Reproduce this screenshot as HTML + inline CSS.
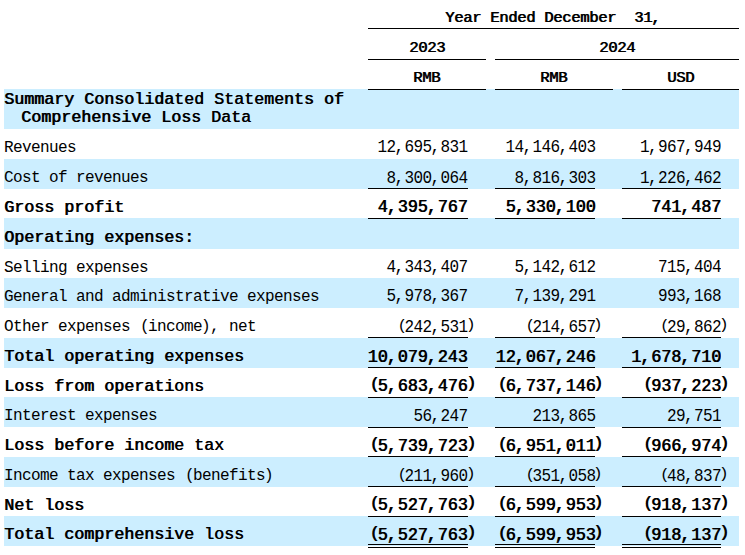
<!DOCTYPE html>
<html><head><meta charset="utf-8"><style>
html,body{margin:0;padding:0;background:#fff;}
body{width:745px;height:555px;overflow:hidden;position:relative;font-family:"Liberation Mono",monospace;color:#000;}
div{position:absolute;}
.b{background:#cceeff;left:4px;width:735px;}
.l{background:#000;height:1px;}
.t{line-height:20px;height:20px;white-space:pre;}
.r{text-align:right;}
.c{text-align:center;}
.n{transform:scaleY(1.09);transform-origin:0 14px;}
.p{transform:scaleY(.97);transform-origin:0 0;}
span{position:relative;}
.po{display:inline-block;transform:translate(2px,0) scaleY(.89);transform-origin:0 0;}
.cm{left:-1px;}
.pl{left:1px;}
.pr{left:-1px;}
</style></head><body>

<div class="b" style="top:89px;height:40px"></div>
<div class="b" style="top:159px;height:30px"></div>
<div class="b" style="top:218px;height:31px"></div>
<div class="b" style="top:278px;height:30px"></div>
<div class="b" style="top:338px;height:30px"></div>
<div class="b" style="top:397px;height:30px"></div>
<div class="b" style="top:457px;height:30px"></div>
<div class="b" style="top:516px;height:30px"></div>
<div class="l" style="left:368px;width:371px;top:28px"></div>
<div class="l" style="left:368px;width:118px;top:59px"></div>
<div class="l" style="left:495px;width:244px;top:59px"></div>
<div class="l" style="left:368px;width:118px;top:89px"></div>
<div class="l" style="left:495px;width:118px;top:89px"></div>
<div class="l" style="left:622px;width:117px;top:89px"></div>
<div class="l" style="left:368px;width:100px;top:188px"></div>
<div class="l" style="left:495px;width:100px;top:188px"></div>
<div class="l" style="left:622px;width:99px;top:188px"></div>
<div class="l" style="left:368px;width:100px;top:218px"></div>
<div class="l" style="left:495px;width:100px;top:218px"></div>
<div class="l" style="left:622px;width:99px;top:218px"></div>
<div class="l" style="left:368px;width:100px;top:337px"></div>
<div class="l" style="left:495px;width:100px;top:337px"></div>
<div class="l" style="left:622px;width:99px;top:337px"></div>
<div class="l" style="left:368px;width:100px;top:367px"></div>
<div class="l" style="left:495px;width:100px;top:367px"></div>
<div class="l" style="left:622px;width:99px;top:367px"></div>
<div class="l" style="left:368px;width:100px;top:397px"></div>
<div class="l" style="left:495px;width:100px;top:397px"></div>
<div class="l" style="left:622px;width:99px;top:397px"></div>
<div class="l" style="left:368px;width:100px;top:427px"></div>
<div class="l" style="left:495px;width:100px;top:427px"></div>
<div class="l" style="left:622px;width:99px;top:427px"></div>
<div class="l" style="left:368px;width:100px;top:456px"></div>
<div class="l" style="left:495px;width:100px;top:456px"></div>
<div class="l" style="left:622px;width:99px;top:456px"></div>
<div class="l" style="left:368px;width:100px;top:486px"></div>
<div class="l" style="left:495px;width:100px;top:486px"></div>
<div class="l" style="left:622px;width:99px;top:486px"></div>
<div class="l" style="left:368px;width:100px;top:516px"></div>
<div class="l" style="left:495px;width:100px;top:516px"></div>
<div class="l" style="left:622px;width:99px;top:516px"></div>
<div class="l" style="left:368px;width:100px;top:544px"></div>
<div class="l" style="left:495px;width:100px;top:544px"></div>
<div class="l" style="left:622px;width:99px;top:544px"></div>
<div class="l" style="left:368px;width:100px;top:547px"></div>
<div class="l" style="left:495px;width:100px;top:547px"></div>
<div class="l" style="left:622px;width:99px;top:547px"></div>
<div class="t" style="font-size:15.5px;letter-spacing:-0.3px;text-shadow:0.7px 0 0 #000;top:8px;left:445px;">Year Ended December  31<span class="cm">,</span></div>
<div class="t c" style="font-size:15.5px;letter-spacing:-0.3px;text-shadow:0.7px 0 0 #000;top:38px;left:277px;width:300px;">2023</div>
<div class="t c" style="font-size:15.5px;letter-spacing:-0.3px;text-shadow:0.7px 0 0 #000;top:38px;left:467px;width:300px;">2024</div>
<div class="t c" style="font-size:15.5px;letter-spacing:-0.3px;text-shadow:0.7px 0 0 #000;top:68px;left:276.5px;width:300px;">RMB</div>
<div class="t c" style="font-size:15.5px;letter-spacing:-0.3px;text-shadow:0.7px 0 0 #000;top:68px;left:403.5px;width:300px;">RMB</div>
<div class="t c" style="font-size:15.5px;letter-spacing:-0.3px;text-shadow:0.7px 0 0 #000;top:68px;left:530.5px;width:300px;">USD</div>
<div class="t" style="font-size:16.6667px;text-shadow:0.7px 0 0 #000;top:90px;left:4px;">Summary Consolidated Statements of</div>
<div class="t" style="font-size:16.6667px;text-shadow:0.7px 0 0 #000;top:108px;left:21px;">Comprehensive Loss Data</div>
<div class="t" style="font-size:16px;letter-spacing:-0.6px;top:138px;left:4px;">Revenues</div>
<div class="t n r" style="font-size:16px;letter-spacing:-0.6px;top:138px;left:167.5px;width:300px;">12<span class="cm">,</span>695<span class="cm">,</span>831</div>
<div class="t n r" style="font-size:16px;letter-spacing:-0.6px;top:138px;left:295.5px;width:300px;">14<span class="cm">,</span>146<span class="cm">,</span>403</div>
<div class="t n r" style="font-size:16px;letter-spacing:-0.6px;top:138px;left:421px;width:300px;">1<span class="cm">,</span>967<span class="cm">,</span>949</div>
<div class="t" style="font-size:16px;letter-spacing:-0.6px;top:168px;left:4px;">Cost of revenues</div>
<div class="t n r" style="font-size:16px;letter-spacing:-0.6px;top:169px;left:167.5px;width:300px;">8<span class="cm">,</span>300<span class="cm">,</span>064</div>
<div class="t n r" style="font-size:16px;letter-spacing:-0.6px;top:169px;left:295.5px;width:300px;">8<span class="cm">,</span>816<span class="cm">,</span>303</div>
<div class="t n r" style="font-size:16px;letter-spacing:-0.6px;top:169px;left:421px;width:300px;">1<span class="cm">,</span>226<span class="cm">,</span>462</div>
<div class="t" style="font-size:16.6667px;text-shadow:0.7px 0 0 #000;top:198px;left:4px;">Gross profit</div>
<div class="t n r" style="font-size:16.6667px;text-shadow:0.7px 0 0 #000;top:198px;left:167.5px;width:300px;">4<span class="cm">,</span>395<span class="cm">,</span>767</div>
<div class="t n r" style="font-size:16.6667px;text-shadow:0.7px 0 0 #000;top:198px;left:295.5px;width:300px;">5<span class="cm">,</span>330<span class="cm">,</span>100</div>
<div class="t n r" style="font-size:16.6667px;text-shadow:0.7px 0 0 #000;top:198px;left:421px;width:300px;">741<span class="cm">,</span>487</div>
<div class="t" style="font-size:16.6667px;text-shadow:0.7px 0 0 #000;top:228px;left:4px;">Operating expenses:</div>
<div class="t" style="font-size:16px;letter-spacing:-0.6px;top:258px;left:4px;">Selling expenses</div>
<div class="t n r" style="font-size:16px;letter-spacing:-0.6px;top:258px;left:167.5px;width:300px;">4<span class="cm">,</span>343<span class="cm">,</span>407</div>
<div class="t n r" style="font-size:16px;letter-spacing:-0.6px;top:258px;left:295.5px;width:300px;">5<span class="cm">,</span>142<span class="cm">,</span>612</div>
<div class="t n r" style="font-size:16px;letter-spacing:-0.6px;top:258px;left:421px;width:300px;">715<span class="cm">,</span>404</div>
<div class="t" style="font-size:16px;letter-spacing:-0.6px;top:287px;left:4px;">General and administrative expenses</div>
<div class="t n r" style="font-size:16px;letter-spacing:-0.6px;top:287px;left:167.5px;width:300px;">5<span class="cm">,</span>978<span class="cm">,</span>367</div>
<div class="t n r" style="font-size:16px;letter-spacing:-0.6px;top:287px;left:295.5px;width:300px;">7<span class="cm">,</span>139<span class="cm">,</span>291</div>
<div class="t n r" style="font-size:16px;letter-spacing:-0.6px;top:287px;left:421px;width:300px;">993<span class="cm">,</span>168</div>
<div class="t" style="font-size:16px;letter-spacing:-0.6px;top:317px;left:4px;">Other expenses <span class="pl">(</span>income<span class="pr">)</span><span class="cm">,</span> net</div>
<div class="t n r" style="font-size:16px;letter-spacing:-0.6px;top:318px;left:167.5px;width:300px;"><span class="po">(</span>242<span class="cm">,</span>531</div>
<div class="t p" style="font-size:16px;letter-spacing:-0.6px;top:315px;left:466px;">)</div>
<div class="t n r" style="font-size:16px;letter-spacing:-0.6px;top:318px;left:295.5px;width:300px;"><span class="po">(</span>214<span class="cm">,</span>657</div>
<div class="t p" style="font-size:16px;letter-spacing:-0.6px;top:315px;left:593px;">)</div>
<div class="t n r" style="font-size:16px;letter-spacing:-0.6px;top:318px;left:421px;width:300px;"><span class="po">(</span>29<span class="cm">,</span>862</div>
<div class="t p" style="font-size:16px;letter-spacing:-0.6px;top:315px;left:719px;">)</div>
<div class="t" style="font-size:16.6667px;text-shadow:0.7px 0 0 #000;top:347px;left:4px;">Total operating expenses</div>
<div class="t n r" style="font-size:16.6667px;text-shadow:0.7px 0 0 #000;top:348px;left:167.5px;width:300px;">10<span class="cm">,</span>079<span class="cm">,</span>243</div>
<div class="t n r" style="font-size:16.6667px;text-shadow:0.7px 0 0 #000;top:348px;left:295.5px;width:300px;">12<span class="cm">,</span>067<span class="cm">,</span>246</div>
<div class="t n r" style="font-size:16.6667px;text-shadow:0.7px 0 0 #000;top:348px;left:421px;width:300px;">1<span class="cm">,</span>678<span class="cm">,</span>710</div>
<div class="t" style="font-size:16.6667px;text-shadow:0.7px 0 0 #000;top:377px;left:4px;">Loss from operations</div>
<div class="t n r" style="font-size:16.6667px;text-shadow:0.7px 0 0 #000;top:377px;left:167.5px;width:300px;"><span class="po">(</span>5<span class="cm">,</span>683<span class="cm">,</span>476</div>
<div class="t p" style="font-size:16.6667px;text-shadow:0.7px 0 0 #000;top:374px;left:466px;">)</div>
<div class="t n r" style="font-size:16.6667px;text-shadow:0.7px 0 0 #000;top:377px;left:295.5px;width:300px;"><span class="po">(</span>6<span class="cm">,</span>737<span class="cm">,</span>146</div>
<div class="t p" style="font-size:16.6667px;text-shadow:0.7px 0 0 #000;top:374px;left:593px;">)</div>
<div class="t n r" style="font-size:16.6667px;text-shadow:0.7px 0 0 #000;top:377px;left:421px;width:300px;"><span class="po">(</span>937<span class="cm">,</span>223</div>
<div class="t p" style="font-size:16.6667px;text-shadow:0.7px 0 0 #000;top:374px;left:719px;">)</div>
<div class="t" style="font-size:16px;letter-spacing:-0.6px;top:406px;left:4px;">Interest expenses</div>
<div class="t n r" style="font-size:16px;letter-spacing:-0.6px;top:407px;left:167.5px;width:300px;">56<span class="cm">,</span>247</div>
<div class="t n r" style="font-size:16px;letter-spacing:-0.6px;top:407px;left:295.5px;width:300px;">213<span class="cm">,</span>865</div>
<div class="t n r" style="font-size:16px;letter-spacing:-0.6px;top:407px;left:421px;width:300px;">29<span class="cm">,</span>751</div>
<div class="t" style="font-size:16.6667px;text-shadow:0.7px 0 0 #000;top:436px;left:4px;">Loss before income tax</div>
<div class="t n r" style="font-size:16.6667px;text-shadow:0.7px 0 0 #000;top:437px;left:167.5px;width:300px;"><span class="po">(</span>5<span class="cm">,</span>739<span class="cm">,</span>723</div>
<div class="t p" style="font-size:16.6667px;text-shadow:0.7px 0 0 #000;top:434px;left:466px;">)</div>
<div class="t n r" style="font-size:16.6667px;text-shadow:0.7px 0 0 #000;top:437px;left:295.5px;width:300px;"><span class="po">(</span>6<span class="cm">,</span>951<span class="cm">,</span>011</div>
<div class="t p" style="font-size:16.6667px;text-shadow:0.7px 0 0 #000;top:434px;left:593px;">)</div>
<div class="t n r" style="font-size:16.6667px;text-shadow:0.7px 0 0 #000;top:437px;left:421px;width:300px;"><span class="po">(</span>966<span class="cm">,</span>974</div>
<div class="t p" style="font-size:16.6667px;text-shadow:0.7px 0 0 #000;top:434px;left:719px;">)</div>
<div class="t" style="font-size:16px;letter-spacing:-0.6px;top:466px;left:4px;">Income tax expenses <span class="pl">(</span>benefits<span class="pr">)</span></div>
<div class="t n r" style="font-size:16px;letter-spacing:-0.6px;top:467px;left:167.5px;width:300px;"><span class="po">(</span>211<span class="cm">,</span>960</div>
<div class="t p" style="font-size:16px;letter-spacing:-0.6px;top:464px;left:466px;">)</div>
<div class="t n r" style="font-size:16px;letter-spacing:-0.6px;top:467px;left:295.5px;width:300px;"><span class="po">(</span>351<span class="cm">,</span>058</div>
<div class="t p" style="font-size:16px;letter-spacing:-0.6px;top:464px;left:593px;">)</div>
<div class="t n r" style="font-size:16px;letter-spacing:-0.6px;top:467px;left:421px;width:300px;"><span class="po">(</span>48<span class="cm">,</span>837</div>
<div class="t p" style="font-size:16px;letter-spacing:-0.6px;top:464px;left:719px;">)</div>
<div class="t" style="font-size:16.6667px;text-shadow:0.7px 0 0 #000;top:496px;left:4px;">Net loss</div>
<div class="t n r" style="font-size:16.6667px;text-shadow:0.7px 0 0 #000;top:496px;left:167.5px;width:300px;"><span class="po">(</span>5<span class="cm">,</span>527<span class="cm">,</span>763</div>
<div class="t p" style="font-size:16.6667px;text-shadow:0.7px 0 0 #000;top:493px;left:466px;">)</div>
<div class="t n r" style="font-size:16.6667px;text-shadow:0.7px 0 0 #000;top:496px;left:295.5px;width:300px;"><span class="po">(</span>6<span class="cm">,</span>599<span class="cm">,</span>953</div>
<div class="t p" style="font-size:16.6667px;text-shadow:0.7px 0 0 #000;top:493px;left:593px;">)</div>
<div class="t n r" style="font-size:16.6667px;text-shadow:0.7px 0 0 #000;top:496px;left:421px;width:300px;"><span class="po">(</span>918<span class="cm">,</span>137</div>
<div class="t p" style="font-size:16.6667px;text-shadow:0.7px 0 0 #000;top:493px;left:719px;">)</div>
<div class="t" style="font-size:16.6667px;text-shadow:0.7px 0 0 #000;top:525px;left:4px;">Total comprehensive loss</div>
<div class="t n r" style="font-size:16.6667px;text-shadow:0.7px 0 0 #000;top:526px;left:167.5px;width:300px;"><span class="po">(</span>5<span class="cm">,</span>527<span class="cm">,</span>763</div>
<div class="t p" style="font-size:16.6667px;text-shadow:0.7px 0 0 #000;top:523px;left:466px;">)</div>
<div class="t n r" style="font-size:16.6667px;text-shadow:0.7px 0 0 #000;top:526px;left:295.5px;width:300px;"><span class="po">(</span>6<span class="cm">,</span>599<span class="cm">,</span>953</div>
<div class="t p" style="font-size:16.6667px;text-shadow:0.7px 0 0 #000;top:523px;left:593px;">)</div>
<div class="t n r" style="font-size:16.6667px;text-shadow:0.7px 0 0 #000;top:526px;left:421px;width:300px;"><span class="po">(</span>918<span class="cm">,</span>137</div>
<div class="t p" style="font-size:16.6667px;text-shadow:0.7px 0 0 #000;top:523px;left:719px;">)</div>
</body></html>
